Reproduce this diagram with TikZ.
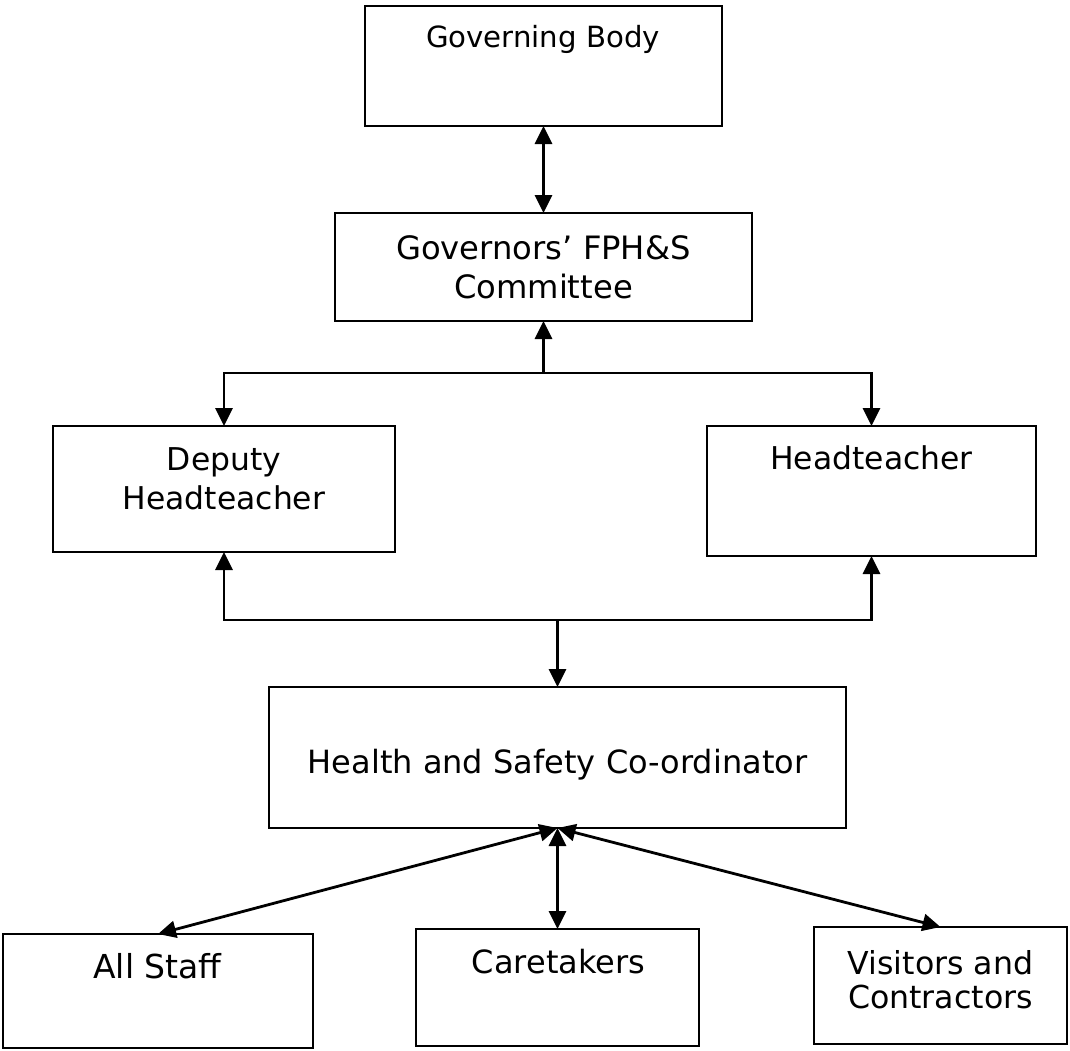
\documentclass[tikz,border=0pt]{standalone}
\usepackage{fontspec}
\setmainfont{DejaVu Sans}
\usetikzlibrary{arrows.meta}
\begin{document}
\begin{tikzpicture}[x=0.5pt,y=-0.5pt,
  box/.style={draw, line width=1.2pt, inner sep=0pt, outer sep=0pt, rectangle},
  lbl/.style={inner sep=0pt, font=\fontsize{15.7}{19.5}\selectfont, align=center},
  lblb/.style={inner sep=0pt, font=\fontsize{15.8}{17}\selectfont, align=center},
  conn/.style={line width=1.4pt, -{Triangle[length=9pt,width=8.5pt]}},
  both/.style={line width=1.4pt, {Triangle[length=9pt,width=8.5pt]}-{Triangle[length=9pt,width=8.5pt]}}]
\useasboundingbox (0,0) rectangle (1070,1050);

% boxes
\node[box, minimum width=178.5pt, minimum height=60pt]   (gb) at (543.5,66) {};
\node[box, minimum width=208.5pt, minimum height=54pt]   (gc) at (543.5,267) {};
\node[box, minimum width=171pt,   minimum height=63pt]   (dh) at (224,489) {};
\node[box, minimum width=164.5pt, minimum height=65pt]   (ht) at (871.5,491) {};
\node[box, minimum width=288.5pt, minimum height=70.5pt] (hs) at (557.5,757.5) {};
\node[box, minimum width=155pt,   minimum height=57pt]   (as) at (158,991) {};
\node[box, minimum width=141.5pt, minimum height=58.5pt] (ct) at (557.5,987.5) {};
\node[box, minimum width=126.5pt, minimum height=58.5pt] (vc) at (940.5,985.5) {};

% texts
\node[lbl, font=\fontsize{14.6}{19.5}\selectfont, anchor=base] (gbt) at (543,47) {Governing Body};
\node[lbl, font=\fontsize{16.1}{19.5}\selectfont] (gct) at (543.5,267) {Governors’ FPH\&S\\Committee};
\node[lbl] (dht) at (224,479) {Deputy\\Headteacher};
\node[lbl, anchor=base] (htt) at (871.5,469) {Headteacher};
\node[lblb, font=\fontsize{16}{19}\selectfont, anchor=base] (hst) at (557.5,773) {Health and Safety Co-ordinator};
\node[lblb, font=\fontsize{16.5}{19}\selectfont, anchor=base] (ast) at (157.5,978) {All Staff};
\node[lblb, font=\fontsize{16}{19}\selectfont, anchor=base] (ctt) at (558.5,973) {Caretakers};
\node[lblb] (vct) at (940.5,980) {Visitors and\\Contractors};

% junctions
\coordinate (j1) at (543.5,373);
\coordinate (j2) at (557.5,620);

% connectors
\draw[both] (gb.south) -- (gc.north);
\draw[conn] (j1) -- (gc.south);
\draw[conn] (j1) -| (dh.north);
\draw[conn] (j1) -| (ht.north);
\draw[conn] (j2) -- (hs.north);
\draw[conn] (j2) -| (dh.south);
\draw[conn] (j2) -| (ht.south);
\draw[both] (hs.south) -- (as.north);
\draw[both] (hs.south) -- (ct.north);
\draw[both] (hs.south) -- (vc.north);
\end{tikzpicture}
\end{document}
